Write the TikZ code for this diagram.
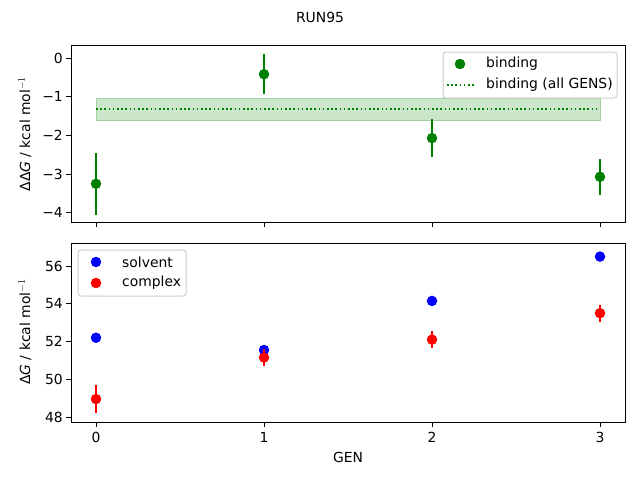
\documentclass[tikz,border=0pt]{standalone}
\usepackage{fontspec}
\setmainfont{DejaVu Sans}
\begin{document}
\begin{tikzpicture}[x=1pt,y=-1pt,
 every node/.style={font=\fontsize{13.9}{16}\selectfont, inner sep=0pt},
 ax/.style={line width=0.9pt},
 tk/.style={line width=0.9pt},
 err/.style={line width=2pt},
 dots/.style={line width=1.6pt, dash pattern=on 1.6pt off 2.6pt},
 mk/.style={circle, minimum size=10.5pt, inner sep=0pt},
 lgbox/.style={draw=black!20, fill=white, rounded corners=3pt, line width=1pt}]
\useasboundingbox (0,0) rectangle (640,480);
\definecolor{mgreen}{RGB}{0,128,0}
\definecolor{band}{RGB}{204,230,204}
\definecolor{bandl}{RGB}{160,210,160}
\node (title) at (320,17) {RUN95};
% ---------- top axes ----------
\def\ty#1{58-38.7*(#1)}
\fill[band] (96,{\ty{-1.05}}) rectangle (600,{\ty{-1.6}});
\draw[bandl, line width=0.8pt] (96,{\ty{-1.05}}) rectangle (600,{\ty{-1.6}});
\draw[mgreen, dots] (96,{\ty{-1.32}}) -- (600,{\ty{-1.32}});
\foreach \x/\v/\e [count=\i] in {96/-3.25/0.8, 264/-0.42/0.52, 432/-2.07/0.5, 600/-3.07/0.47}{
  \draw[mgreen, err] (\x,{\ty{\v-\e}}) -- (\x,{\ty{\v+\e}});
  \node[mk, fill=mgreen] (b\i) at (\x,{\ty{\v}}) {};
}
\draw[ax] (71,45) rectangle (625,222);
\foreach \v/\l in {0/0,-1/−1,-2/−2,-3/−3,-4/−4}{
  \draw[tk] (71,{\ty{\v}}) -- (66,{\ty{\v}});
  \node[anchor=east] at (63,{\ty{\v}}) {\l};
}
\foreach \x in {96,264,432,600}{\draw[tk] (\x,222) -- (\x,227);}
\node[rotate=90] (yl1) at (25,134) {ΔΔ\textit{G} / kcal mol$^{-1}$};
% legend top
\draw[lgbox] (443,52) rectangle (617,98);
\node[mk, fill=mgreen] (lb) at (460,64) {};
\node[anchor=west] (lbt) at (486,64) {binding};
\draw[mgreen, dots] (447,85) -- (474,85);
\node[anchor=west] (lbt2) at (486,85) {binding (all GENS)};
% ---------- bottom axes ----------
\def\by#1{266-18.875*(#1-56)}
\foreach \x/\v [count=\i] in {96/52.2, 264/51.55, 432/54.15, 600/56.5}{
  \draw[blue, err] (\x,{\by{\v-0.12}}) -- (\x,{\by{\v+0.12}});
  \node[mk, fill=blue] (s\i) at (\x,{\by{\v}}) {};
}
\foreach \x/\v/\e [count=\i] in {96/48.95/0.75, 264/51.15/0.45, 432/52.1/0.45, 600/53.5/0.45}{
  \draw[red, err] (\x,{\by{\v-\e}}) -- (\x,{\by{\v+\e}});
  \node[mk, fill=red] (c\i) at (\x,{\by{\v}}) {};
}
\draw[ax] (71,243) rectangle (625,422);
\foreach \v in {48,50,52,54,56}{
  \draw[tk] (71,{\by{\v}}) -- (66,{\by{\v}});
  \node[anchor=east] at (63,{\by{\v}}) {\v};
}
\foreach \x/\l in {96/0,264/1,432/2,600/3}{
  \draw[tk] (\x,422) -- (\x,427);
  \node at (\x,437) {\l};
}
\node[rotate=90] (yl2) at (25,332) {Δ\textit{G} / kcal mol$^{-1}$};
\node (xl) at (348,457) {GEN};
% legend bottom
\draw[lgbox] (78,250) rectangle (186,296);
\node[mk, fill=blue] (ls) at (96,262) {};
\node[anchor=west] (lst) at (122,262) {solvent};
\node[mk, fill=red] (lc) at (96,283) {};
\node[anchor=west] (lct) at (122,283) {complex};
\end{tikzpicture}
\end{document}
